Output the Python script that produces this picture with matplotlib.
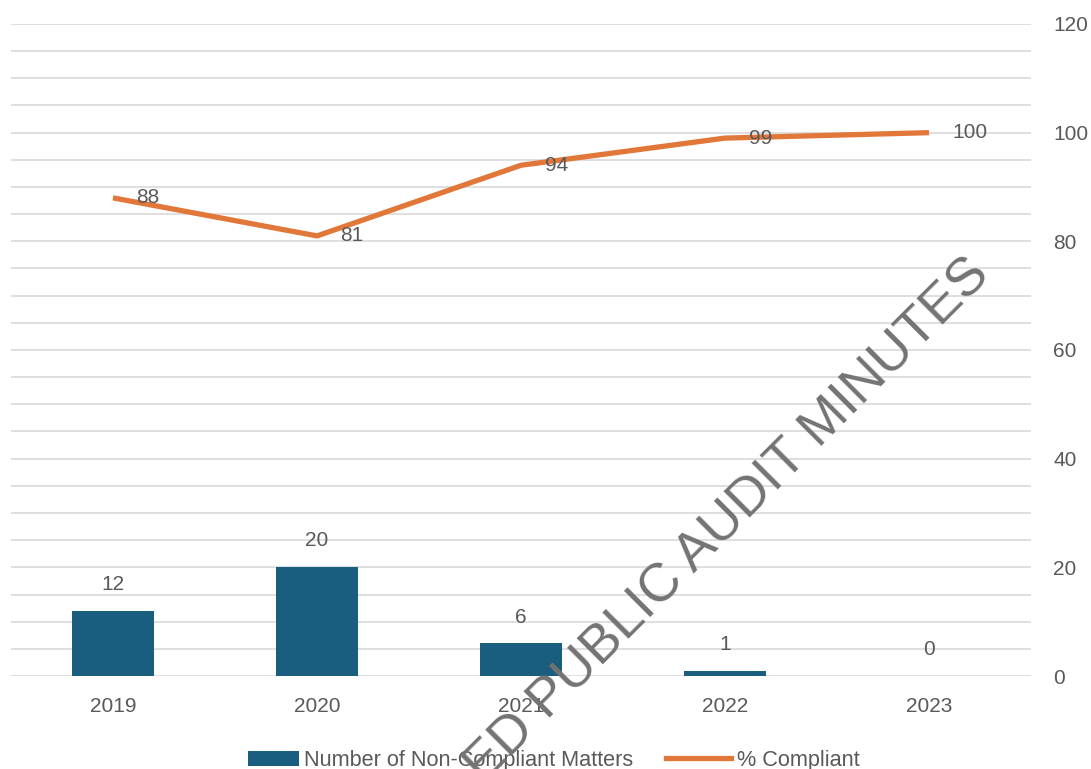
import matplotlib
matplotlib.use("Agg")
import matplotlib.pyplot as plt
from matplotlib.patches import Patch, Rectangle
from matplotlib.lines import Line2D
from matplotlib.legend_handler import HandlerPatch

plt.rcParams['font.family'] = ['Liberation Sans', 'DejaVu Sans']

years = ["2019", "2020", "2021", "2022", "2023"]
non_compliant = [12, 20, 6, 1, 0]
pct_compliant = [88, 81, 94, 99, 100]
right_ticks = [0, 20, 40, 60, 80, 100, 120]

bar_color = "#195E7F"
line_color = "#E2773A"
text_color = "#595959"
grid_color = "#D9D9D9"

fig = plt.figure(figsize=(10.91, 7.69), dpi=100)
ax = fig.add_axes([11 / 1091, 93 / 769, 1020 / 1091, 652 / 769])

x = list(range(len(years)))

# gridlines every 5, labels every 20
for v in range(0, 121, 5):
    ax.axhline(v, color=grid_color, lw=1.2, zorder=0)

ax.bar(x, non_compliant, width=0.4, color=bar_color, zorder=2)
ax.plot(x, pct_compliant, color=line_color, lw=3.8, solid_capstyle="butt", zorder=3)

for xi, v in zip(x, non_compliant):
    ax.annotate(str(v), (xi, v), xytext=(0, 19), textcoords="offset points",
                ha="center", va="center", fontsize=15, color=text_color, zorder=4)
for xi, v in zip(x, pct_compliant):
    ax.annotate(str(v), (xi, v), xytext=(17, 0), textcoords="offset points",
                ha="left", va="center", fontsize=15, color=text_color, zorder=4)

ax.set_xlim(-0.5, len(years) - 0.5)
ax.set_ylim(0, 120)
ax.set_xticks(x)
ax.set_xticklabels(years)
ax.yaxis.tick_right()
ax.set_yticks(right_ticks)
ax.tick_params(axis="both", length=0, labelsize=15, labelcolor=text_color)
ax.tick_params(axis="x", pad=15)
ax.tick_params(axis="y", pad=16)
for s in ax.spines.values():
    s.set_visible(False)


# narrower box for the bar key, like the original
def small_box(legend, orig_handle, xdescent, ydescent, width, height, fontsize):
    w = width * 0.78
    return Rectangle((width - w - xdescent, -ydescent), w, height)


handles = [Patch(facecolor=bar_color, edgecolor="none"),
           Line2D([0], [0], color=line_color, lw=3.8)]
fig.legend(handles, ["Number of Non-Compliant Matters", "% Compliant"],
           loc="center", bbox_to_anchor=(0.501, 0.011), ncol=2, frameon=False,
           fontsize=15.6, labelcolor=text_color, handlelength=3.0,
           handletextpad=0.25, columnspacing=1.5,
           handler_map={Patch: HandlerPatch(patch_func=small_box)})

fig.text(0.667, 0.323, "ED PUBLIC AUDIT MINUTES", rotation=45, rotation_mode="anchor",
         ha="center", va="center", fontsize=39, color="#737373", zorder=10)

fig.savefig("out.png", dpi=100)
